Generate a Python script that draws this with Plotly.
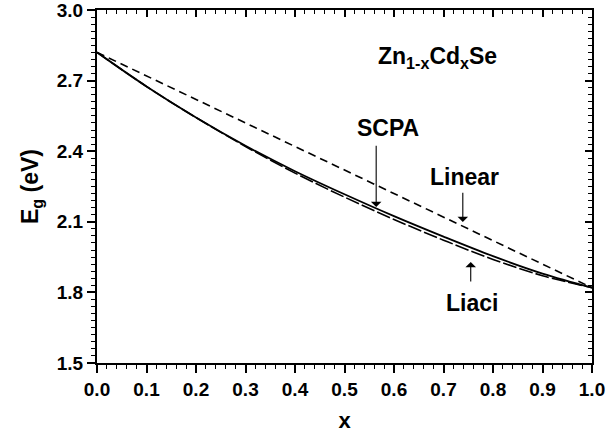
import plotly.graph_objects as go

x_vals = [0.0, 0.1, 0.2, 0.3, 0.4, 0.5, 0.6, 0.7, 0.8, 0.9, 1.0]
linear_eg = [2.82, 2.72, 2.62, 2.52, 2.42, 2.32, 2.22, 2.12, 2.02, 1.92, 1.82]
scpa_eg = [2.82, 2.675, 2.543, 2.423, 2.315, 2.217, 2.124, 2.037, 1.954, 1.88, 1.82]
liaci_eg = [2.82, 2.675, 2.543, 2.420, 2.307, 2.205, 2.110, 2.022, 1.940, 1.871, 1.82]

x_ticks = [0.0, 0.1, 0.2, 0.3, 0.4, 0.5, 0.6, 0.7, 0.8, 0.9, 1.0]
y_ticks = [1.5, 1.8, 2.1, 2.4, 2.7, 3.0]

FONT = "Liberation Sans, Arial, sans-serif"

fig = go.Figure()
fig.add_trace(go.Scatter(x=x_vals, y=linear_eg, mode="lines", name="Linear",
                         line=dict(color="black", width=1.6, dash="8px,5px")))
fig.add_trace(go.Scatter(x=x_vals, y=liaci_eg, mode="lines", name="Liaci", line_shape="spline",
                         line=dict(color="black", width=1.6, dash="14px,3px")))
fig.add_trace(go.Scatter(x=x_vals, y=scpa_eg, mode="lines", name="SCPA", line_shape="spline",
                         line=dict(color="black", width=1.8)))
fig.add_trace(go.Scatter(x=[0, 1], y=[1.5, 3.0], xaxis="x2", yaxis="y2", mode="markers",
                         marker=dict(opacity=0), hoverinfo="skip", showlegend=False))

tickfont = dict(family=FONT, size=19, color="black", weight="bold")

common = dict(showgrid=False, zeroline=False, automargin=False, showline=True,
              linecolor="black", linewidth=2, tickcolor="black", tickwidth=1.5)

fig.update_layout(
    width=606, height=443,
    margin=dict(l=97, r=14, t=10, b=80),
    paper_bgcolor="white", plot_bgcolor="white",
    showlegend=False,
    xaxis=dict(range=[0, 1], tickvals=x_ticks, tickformat=".1f", ticks="outside", ticklen=8,
               tickfont=tickfont, ticklabeloverflow="allow",
               minor=dict(dtick=0.02, ticks="outside", ticklen=4, tickwidth=1.2, tickcolor="black"),
               title=dict(text="x", font=dict(family=FONT, size=22, color="black", weight="bold"),
                          standoff=14), **common),
    yaxis=dict(range=[1.5, 3.0], tickvals=y_ticks, tickformat=".1f", ticks="outside", ticklen=8,
               tickfont=tickfont, ticklabeloverflow="allow",
               minor=dict(dtick=0.03, ticks="outside", ticklen=4, tickwidth=1.2, tickcolor="black"),
               title=dict(text="E<sub>g</sub> (eV)",
                          font=dict(family=FONT, size=23, color="black", weight="bold"),
                          standoff=12), **common),
    xaxis2=dict(range=[0, 1], overlaying="x", side="top", anchor="y", tickvals=x_ticks,
                ticks="inside", ticklen=7, showticklabels=False,
                minor=dict(dtick=0.02, ticks="inside", ticklen=4, tickwidth=1.2, tickcolor="black"),
                **common),
    yaxis2=dict(range=[1.5, 3.0], overlaying="y", side="right", anchor="x", tickvals=y_ticks,
                ticks="inside", ticklen=7, showticklabels=False,
                minor=dict(dtick=0.03, ticks="inside", ticklen=4, tickwidth=1.2, tickcolor="black"),
                **common),
)

labfont = dict(family=FONT, size=23, color="black", weight="bold")

fig.add_annotation(x=0.687, y=2.80, text="Zn<sub>1-x</sub>Cd<sub>x</sub>Se", showarrow=False,
                   font=labfont, xref="x", yref="y")
fig.add_annotation(x=0.588, y=2.50, text="SCPA", showarrow=False, font=labfont)
fig.add_annotation(x=0.743, y=2.29, text="Linear", showarrow=False, font=labfont)
fig.add_annotation(x=0.758, y=1.755, text="Liaci", showarrow=False, font=labfont)

arrows = [
    (0.564, 2.163, 0.564, 2.43),
    (0.739, 2.099, 0.739, 2.23),
    (0.755, 1.929, 0.755, 1.84),
]
for tx, ty, sx, sy in arrows:
    fig.add_annotation(x=tx, y=ty, ax=sx, ay=sy, xref="x", yref="y", axref="x", ayref="y",
                       text="", showarrow=True, arrowhead=1, arrowsize=1.6, arrowwidth=1.1,
                       arrowcolor="black", font=dict(family=FONT, size=10))

fig.write_html("out.html", config={"displayModeBar": False},
               post_script="document.body.style.margin='0';")
